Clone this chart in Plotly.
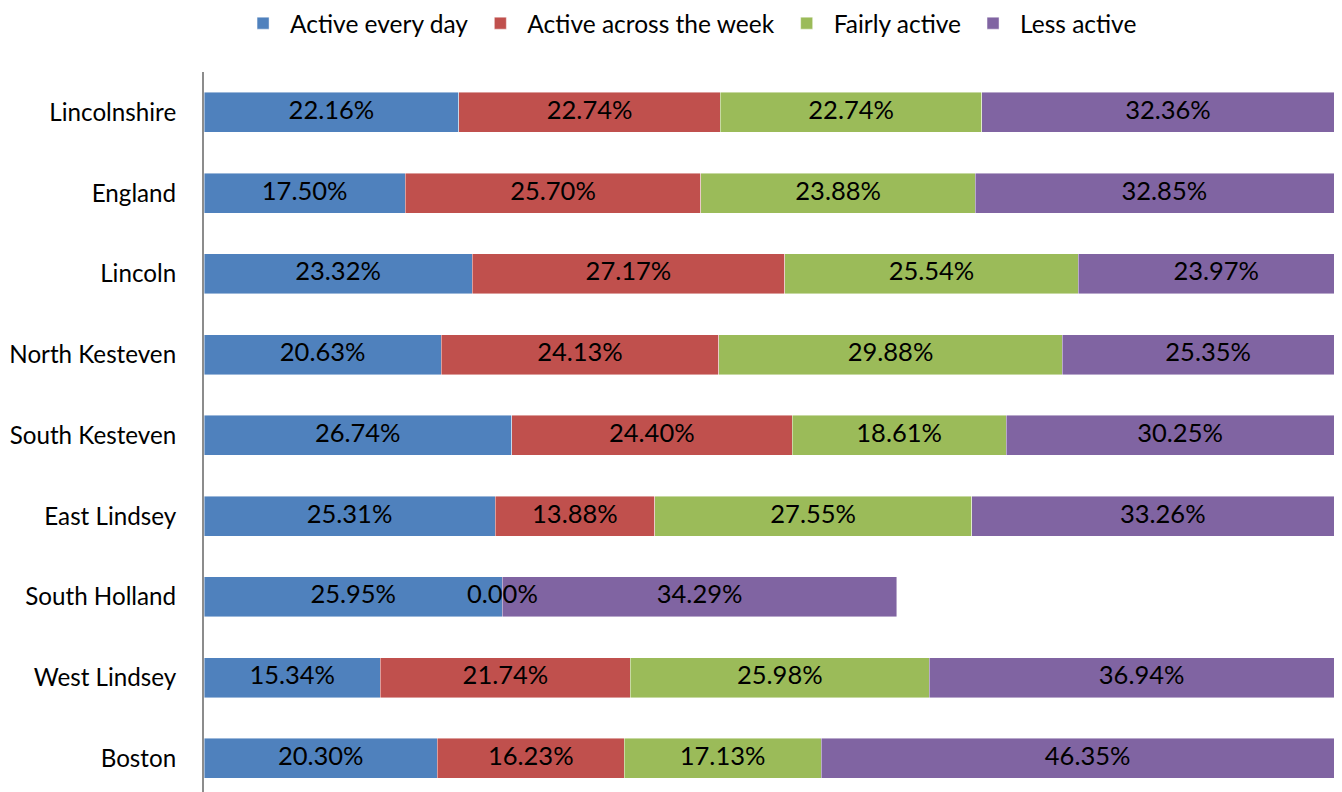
import plotly.graph_objects as go

regions = ["Lincolnshire", "England", "Lincoln", "North Kesteven", "South Kesteven",
           "East Lindsey", "South Holland", "West Lindsey", "Boston"]
series_names = ["Active every day", "Active across the week", "Fairly active", "Less active"]
active_every_day = [22.16, 17.50, 23.32, 20.63, 26.74, 25.31, 25.95, 15.34, 20.30]
active_across_week = [22.74, 25.70, 27.17, 24.13, 24.40, 13.88, 0.00, 21.74, 16.23]
fairly_active = [22.74, 23.88, 25.54, 29.88, 18.61, 27.55, None, 25.98, 17.13]
less_active = [32.36, 32.85, 23.97, 25.35, 30.25, 33.26, 34.29, 36.94, 46.35]
colors = ["#4F81BD", "#C0504D", "#9BBB59", "#8064A2"]

FONT = "Lato, Carlito, Calibri, sans-serif"
all_series = [active_every_day, active_across_week, fairly_active, less_active]

fig = go.Figure()
for name, vals, col in zip(series_names, all_series, colors):
    fig.add_trace(go.Bar(
        y=regions, x=[None if v is None else v / 100 for v in vals],
        name=name, orientation="h", marker=dict(color=col, line=dict(width=0.8, color="rgba(255,255,255,0.55)")),
        hoverinfo="skip",
    ))

# data labels at segment midpoints
lab_x, lab_y, lab_t = [], [], []
for i, reg in enumerate(regions):
    base = 0.0
    for vals in all_series:
        v = vals[i]
        if v is None:
            continue
        lab_x.append((base + v / 2) / 100)
        lab_y.append(reg)
        lab_t.append(f"{v:.2f}%")
        base += v
fig.add_trace(go.Scatter(x=lab_x, y=lab_y, text=lab_t, mode="text", showlegend=False,
                         textfont=dict(family=FONT, size=25.5, color="#000000"), hoverinfo="skip"))

fig.update_layout(
    width=1342, height=792, barmode="stack", bargap=0.505,
    paper_bgcolor="white", plot_bgcolor="white",
    margin=dict(l=196, r=0, t=64, b=0, autoexpand=False),
    font=dict(family=FONT, size=25, color="#000000"),
    legend=dict(orientation="h", xref="container", x=0.5075, xanchor="center",
                yref="paper", y=1.067, yanchor="middle", font=dict(family=FONT, size=24.5, color="#000000"),
                traceorder="normal", itemwidth=44),
    xaxis=dict(range=[0, 0.9965], showgrid=False, zeroline=False, showticklabels=False,
               showline=False, ticks="", automargin=False),
    yaxis=dict(categoryorder="array", categoryarray=regions[::-1], range=[-0.515, 8.5],
               showgrid=False, zeroline=False, showline=True, linecolor="#8C8C8C", linewidth=2,
               ticks="outside", ticklen=21, tickcolor="rgba(0,0,0,0)", automargin=False,
               tickfont=dict(family=FONT, size=24.2, color="#000000")),
)
fig.write_html("out.html")
